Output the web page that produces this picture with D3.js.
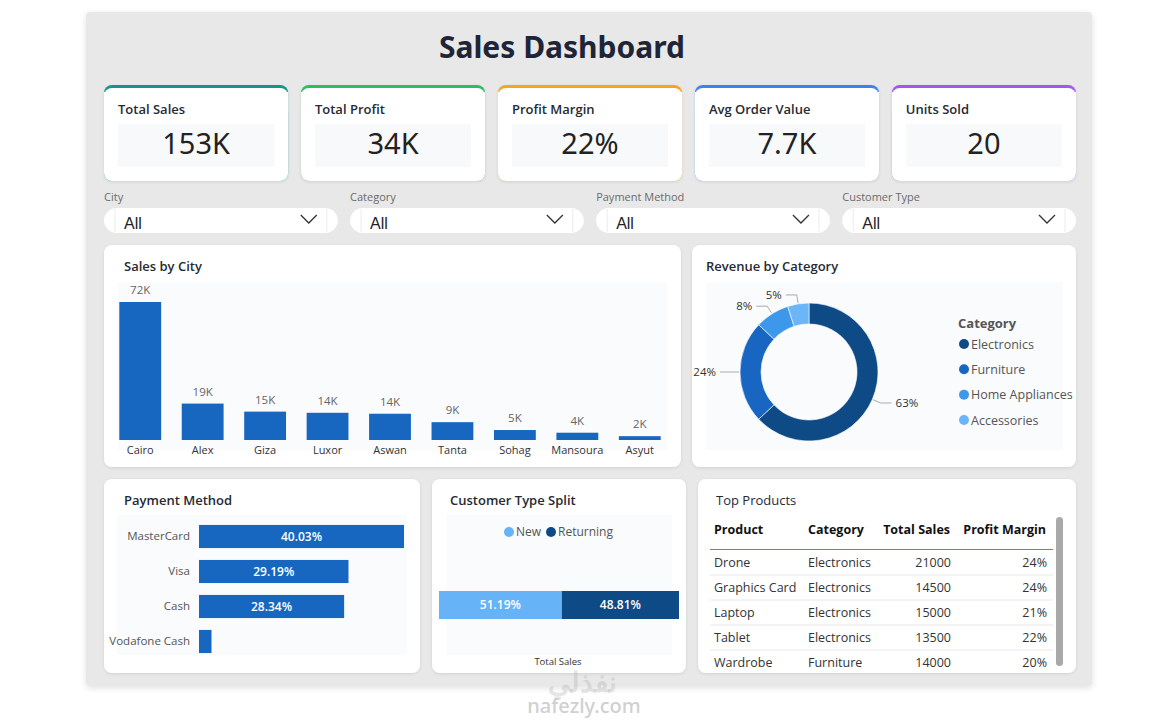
<!DOCTYPE html>
<html><head><meta charset="utf-8">
<script src="https://cdn.jsdelivr.net/npm/d3@7"></script>
<style>
html,body{margin:0;padding:0;background:#fff;}
svg{display:block;font-family:"Open Sans","Noto Sans",sans-serif;}
</style></head>
<body><svg id="c" width="1168" height="722"></svg>
<script>
// ---------- data ----------
const kpiLabels = ["Total Sales","Total Profit","Profit Margin","Avg Order Value","Units Sold"];
const kpiValues = ["153K","34K","22%","7.7K","20"];
const kpiColors = ["#16968a","#2dbd5e","#f5a524","#3b82f0","#a457ee"];
const filterLabels = ["City","Category","Payment Method","Customer Type"];
const filterValues = ["All","All","All","All"];

const cities = ["Cairo","Alex","Giza","Luxor","Aswan","Tanta","Sohag","Mansoura","Asyut"];
const citySales = [72000,19000,14800,14200,13700,9300,5200,3800,2000];
const cityLabels = ["72K","19K","15K","14K","14K","9K","5K","4K","2K"];

const categories = ["Electronics","Furniture","Home Appliances","Accessories"];
const categoryShares = [63,24,8,5];
const categoryColors = ["#0d4a86","#1866c2","#3d97ea","#6cb6f7"];

const paymentMethods = ["MasterCard","Visa","Cash","Vodafone Cash"];
const paymentShares = [40.03,29.19,28.34,2.44];

const customerTypes = ["New","Returning"];
const customerShares = [51.19,48.81];
const customerColors = ["#66b3f7","#0d4a86"];

const tableHeaders = ["Product","Category","Total Sales","Profit Margin"];
const products = ["Drone","Graphics Card","Laptop","Tablet","Wardrobe"];
const productCategories = ["Electronics","Electronics","Electronics","Electronics","Furniture"];
const productSales = [21000,14500,15000,13500,14000];
const productMargins = ["24%","24%","21%","22%","20%"];

// ---------- drawing ----------
const svg = d3.select("#c");
const defs = svg.append("defs");
const f = defs.append("filter").attr("id","sh").attr("x","-10%").attr("y","-10%").attr("width","120%").attr("height","130%");
f.append("feDropShadow").attr("dx",0).attr("dy",1).attr("stdDeviation",1.5).attr("flood-color","#000").attr("flood-opacity",0.10);
const f2 = defs.append("filter").attr("id","sh2").attr("x","-5%").attr("y","-5%").attr("width","110%").attr("height","110%");
f2.append("feDropShadow").attr("dx",0).attr("dy",2).attr("stdDeviation",3).attr("flood-color","#000").attr("flood-opacity",0.12);

// outer panel
svg.append("rect").attr("x",86).attr("y",12).attr("width",1006).attr("height",674).attr("rx",4)
  .attr("fill","#e8e8e8").attr("filter","url(#sh2)");

svg.append("text").attr("x",562).attr("y",58).attr("text-anchor","middle")
  .attr("font-family","'Noto Sans',sans-serif").attr("font-weight",700).attr("font-size",30)
  .attr("fill","#1e2536").text("Sales Dashboard");

function card(x,y,w,h){
  return svg.append("rect").attr("x",x).attr("y",y).attr("width",w).attr("height",h).attr("rx",8)
    .attr("fill","#fff").attr("filter","url(#sh)");
}

// KPI cards
const kpiX = d3.scaleBand().domain(kpiLabels).range([104,1076]).paddingInner(0.065);
kpiLabels.forEach((l,i)=>{
  const x = kpiX(l), w = kpiX.bandwidth();
  svg.append("rect").attr("x",x).attr("y",85).attr("width",w).attr("height",96).attr("rx",8)
    .attr("fill",kpiColors[i]).attr("filter","url(#sh)");
  svg.append("rect").attr("x",x).attr("y",88).attr("width",w).attr("height",93).attr("rx",8).attr("fill","#fff");
  svg.append("rect").attr("x",x).attr("y",92).attr("width",w).attr("height",20).attr("fill","#fff");
  svg.append("text").attr("x",x+14).attr("y",114).attr("font-size",13).attr("font-weight",600)
    .attr("fill","#252a33").text(l);
  svg.append("rect").attr("x",x+14).attr("y",124).attr("width",w-28).attr("height",43).attr("fill","#f8f9fb");
  svg.append("text").attr("x",x+w/2).attr("y",154).attr("text-anchor","middle")
    .attr("font-family","'Noto Sans',sans-serif").attr("font-size",29).attr("fill","#222").text(kpiValues[i]);
});

// filters
const filX = d3.scaleBand().domain(filterLabels).range([104,1076]).paddingInner(0.05);
filterLabels.forEach((l,i)=>{
  const x = filX(l), w = filX.bandwidth();
  svg.append("text").attr("x",x).attr("y",201).attr("font-size",11).attr("fill","#6b6b6b").text(l);
  svg.append("rect").attr("x",x).attr("y",208).attr("width",w).attr("height",25).attr("rx",12.5).attr("fill","#fff");
  svg.append("line").attr("x1",x+11).attr("x2",x+11).attr("y1",209).attr("y2",232).attr("stroke","#ececec");
  svg.append("line").attr("x1",x+w-11).attr("x2",x+w-11).attr("y1",209).attr("y2",232).attr("stroke","#ececec");
  svg.append("text").attr("x",x+20).attr("y",229).attr("font-family","'Liberation Sans',Arial,sans-serif")
    .attr("font-size",16).attr("fill","#222").text(filterValues[i]);
  const cx = x+w-29;
  svg.append("polyline").attr("points",`${cx-8},215 ${cx},223 ${cx+8},215`).attr("fill","none")
    .attr("stroke","#333").attr("stroke-width",1.3);
});

// ---- Sales by City ----
card(104,245,577,222);
svg.append("text").attr("x",124).attr("y",271).attr("font-size",13).attr("font-weight",600).attr("fill","#252a33").text("Sales by City");
svg.append("rect").attr("x",118).attr("y",282).attr("width",549).attr("height",168).attr("fill","#fafbfd");
const cx = d3.scaleBand().domain(cities).range([109,671]).paddingInner(0.33).paddingOuter(0.165);
const cy = d3.scaleLinear().domain([0,72000]).range([440,302]);
svg.append("g").selectAll("rect").data(cities).join("rect")
  .attr("x",d=>cx(d)).attr("width",cx.bandwidth())
  .attr("y",(d,i)=>cy(citySales[i])).attr("height",(d,i)=>cy(0)-cy(citySales[i]))
  .attr("fill","#1767c1");
svg.append("g").selectAll("text").data(cities).join("text")
  .attr("x",d=>cx(d)+cx.bandwidth()/2).attr("y",(d,i)=>cy(citySales[i])-8)
  .attr("text-anchor","middle").attr("font-size",11.5).attr("fill","#666").text((d,i)=>cityLabels[i]);
const ax = svg.append("g").attr("transform","translate(0,440)").call(d3.axisBottom(cx).tickSize(0).tickPadding(6));
ax.select(".domain").remove();
ax.selectAll("text").attr("font-size",11).attr("fill","#333").attr("font-family","'Open Sans',sans-serif");

// ---- Revenue by Category ----
card(692,245,384,222);
svg.append("text").attr("x",706).attr("y",271).attr("font-size",13).attr("font-weight",600).attr("fill","#252a33").text("Revenue by Category");
svg.append("rect").attr("x",706).attr("y",282).attr("width",357).attr("height",168).attr("fill","#fafbfd");
const dc = [809,372];
const pie = d3.pie().sort(null).value(d=>d)(categoryShares);
const arc = d3.arc().innerRadius(48).outerRadius(69);
const dg = svg.append("g").attr("transform",`translate(${dc[0]},${dc[1]})`);
dg.selectAll("path").data(pie).join("path").attr("d",arc).attr("fill",(d,i)=>categoryColors[i])
  .attr("stroke","#fff").attr("stroke-width",0.6);
pie.forEach((p,i)=>{
  const a = (p.startAngle+p.endAngle)/2;
  const r1 = 70, r2 = 78;
  const x1 = r1*Math.sin(a), y1 = -r1*Math.cos(a);
  const x2 = r2*Math.sin(a), y2 = -r2*Math.cos(a);
  const side = Math.sin(a) >= 0 ? 1 : -1;
  const x3 = x2 + side*11;
  dg.append("polyline").attr("points",`${x1},${y1} ${x2},${y2} ${x3},${y2}`).attr("fill","none")
    .attr("stroke","#aaa").attr("stroke-width",1);
  dg.append("text").attr("x",x3+side*4).attr("y",y2+4).attr("text-anchor",side>0?"start":"end")
    .attr("font-size",11.5).attr("fill","#333").text(categoryShares[i]+"%");
});
svg.append("text").attr("x",958).attr("y",328).attr("font-size",13).attr("font-weight",700).attr("fill","#555").text("Category");
const ly = d3.scalePoint().domain(categories).range([344,420]);
categories.forEach((c,i)=>{
  svg.append("circle").attr("cx",964).attr("cy",ly(c)).attr("r",5).attr("fill",categoryColors[i]);
  svg.append("text").attr("x",971).attr("y",ly(c)+4.5).attr("font-size",12.5).attr("fill","#555").text(c);
});

// ---- Payment Method ----
card(104,479,316,194);
svg.append("text").attr("x",124).attr("y",505).attr("font-size",13).attr("font-weight",600).attr("fill","#252a33").text("Payment Method");
svg.append("rect").attr("x",117).attr("y",515).attr("width",290).attr("height",140).attr("fill","#fafbfd");
const px = d3.scaleLinear().domain([0,40.03]).range([199,404]);
const py = d3.scaleBand().domain(paymentMethods).range([519,659]).paddingInner(0.34).paddingOuter(0.17);
svg.append("g").selectAll("rect").data(paymentMethods).join("rect")
  .attr("x",px(0)).attr("y",d=>py(d)).attr("height",py.bandwidth())
  .attr("width",(d,i)=>px(paymentShares[i])-px(0)).attr("fill","#1767c1");
svg.append("g").selectAll("text").data(paymentMethods.filter((d,i)=>paymentShares[i]>10)).join("text")
  .attr("x",(d,i)=>(px(0)+px(paymentShares[i]))/2).attr("y",d=>py(d)+py.bandwidth()/2+4)
  .attr("text-anchor","middle").attr("font-size",12).attr("font-weight",600).attr("fill","#fff")
  .text((d,i)=>paymentShares[i].toFixed(2)+"%");
const pay = svg.append("g").attr("transform",`translate(190,0)`).call(d3.axisLeft(py).tickSize(0).tickPadding(0));
pay.select(".domain").remove();
pay.selectAll("text").attr("font-size",11.5).attr("fill","#555").attr("font-family","'Open Sans',sans-serif");

// ---- Customer Type Split ----
card(432,479,254,194);
svg.append("text").attr("x",450).attr("y",505).attr("font-size",13).attr("font-weight",600).attr("fill","#252a33").text("Customer Type Split");
svg.append("rect").attr("x",447).attr("y",515).attr("width",225).attr("height",140).attr("fill","#fafbfd");
const lgx = [509,551];
customerTypes.forEach((t,i)=>{
  svg.append("circle").attr("cx",lgx[i]).attr("cy",532).attr("r",5).attr("fill",customerColors[i]);
  svg.append("text").attr("x",lgx[i]+7).attr("y",536).attr("font-size",12).attr("fill","#555").text(t);
});
const sx = d3.scaleLinear().domain([0,100]).range([439,679]);
const cum = d3.cumsum([0,...customerShares]);
svg.append("g").selectAll("rect").data(customerTypes).join("rect")
  .attr("x",(d,i)=>sx(cum[i])).attr("width",(d,i)=>sx(cum[i+1])-sx(cum[i]))
  .attr("y",591).attr("height",28).attr("fill",(d,i)=>customerColors[i]);
svg.append("g").selectAll("text").data(customerTypes).join("text")
  .attr("x",(d,i)=>(sx(cum[i])+sx(cum[i+1]))/2).attr("y",609)
  .attr("text-anchor","middle").attr("font-size",12).attr("font-weight",600).attr("fill","#fff")
  .text((d,i)=>customerShares[i].toFixed(2)+"%");
svg.append("text").attr("x",558).attr("y",665).attr("text-anchor","middle").attr("font-size",9.5).attr("fill","#333").text("Total Sales");

// ---- Top Products ----
card(698,479,378,194);
svg.append("text").attr("x",716).attr("y",505).attr("font-size",13).attr("font-weight",500).attr("fill","#252a33").text("Top Products");
const colX = [714,808,950,1046];
const colAnchor = ["start","start","end","end"];
tableHeaders.forEach((h,i)=>{
  svg.append("text").attr("x",colX[i]).attr("y",534).attr("text-anchor",colAnchor[i])
    .attr("font-size",12.5).attr("font-weight",700).attr("fill","#111").text(h);
});
svg.append("line").attr("x1",710).attr("x2",1053).attr("y1",549.5).attr("y2",549.5).attr("stroke","#3f8fd6").attr("stroke-width",1);
const ry = d3.scaleBand().domain(products).range([550,675]);
products.forEach((p,i)=>{
  const y = ry(p)+ry.bandwidth()/2+4.5;
  const vals = [p, productCategories[i], String(productSales[i]), productMargins[i]];
  vals.forEach((v,j)=>{
    svg.append("text").attr("x",colX[j]+(j>=2?1:0)).attr("y",y).attr("text-anchor",colAnchor[j])
      .attr("font-size",12.5).attr("fill","#333").text(v);
  });
  if(i<products.length-1){
    svg.append("line").attr("x1",710).attr("x2",1053).attr("y1",ry(p)+ry.bandwidth()).attr("y2",ry(p)+ry.bandwidth())
      .attr("stroke","#e8e8e8");
  }
});
svg.append("rect").attr("x",1056).attr("y",517).attr("width",7).attr("height",149).attr("rx",3.5).attr("fill","#a9a9a9");

// watermark
svg.append("text").attr("x",582).attr("y",692).attr("text-anchor","middle").attr("font-family","'Noto Sans',sans-serif")
  .attr("font-size",28).attr("font-weight",700).attr("fill","#9a9a9a").attr("fill-opacity",0.25).text("نفذلي");
svg.append("text").attr("x",584).attr("y",713).attr("text-anchor","middle").attr("font-family","'Noto Sans',sans-serif")
  .attr("font-size",20).attr("font-weight",500).attr("fill","#d0d0d0").text("nafezly.com");
</script></body></html>
